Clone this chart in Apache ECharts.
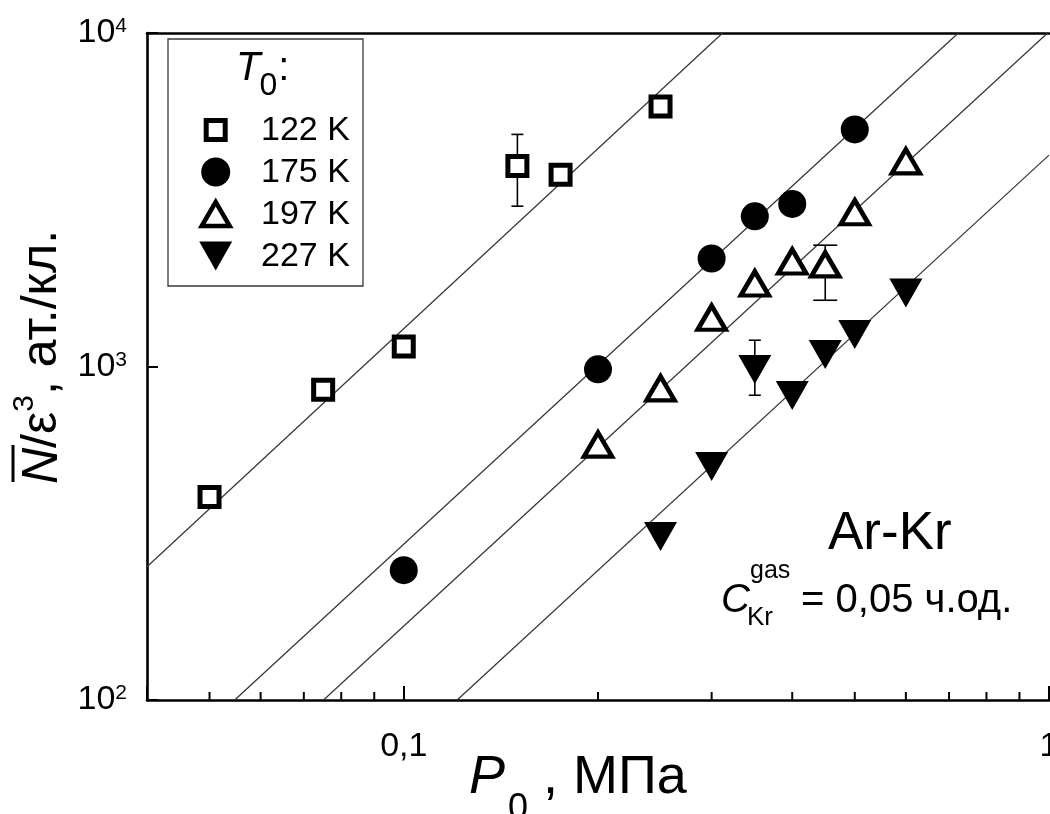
<!DOCTYPE html>
<html><head><meta charset="utf-8">
<script src="https://cdn.jsdelivr.net/npm/echarts@6/dist/echarts.min.js"></script>
<style>html,body{margin:0;padding:0;background:#fff}#c{width:1050px;height:814px}</style>
</head><body><div id="c"></div>
<script>
const FONT = '"Liberation Sans", Arial, sans-serif';

// ---- data ----
const seriesNames = ['122 K', '175 K', '197 K', '227 K'];
const p122 = [0.05, 0.075, 0.1, 0.15, 0.175, 0.25];
const n122 = [406, 852, 1148, 3990, 3760, 6020];
const p175 = [0.1, 0.2, 0.3, 0.35, 0.4, 0.5];
const n175 = [245, 981, 2108, 2820, 3072, 5140];
const p197 = [0.2, 0.25, 0.3, 0.35, 0.4, 0.45, 0.5, 0.6];
const n197 = [583, 860, 1400, 1774, 2065, 2023, 2900, 4120];
const p227 = [0.25, 0.3, 0.35, 0.4, 0.45, 0.5, 0.6];
const n227 = [309, 501, 980, 819, 1086, 1248, 1660];
// error bars: [P0, low, high]
const err122 = [[0.15, 3025, 4965]];
const err197 = [[0.45, 1580, 2311]];
const err227 = [[0.35, 820, 1199]];
// fitted straight lines (end points)
const fit122 = [[0.04, 251], [0.312, 10000]];
const fit175 = [[0.0547, 100], [0.7235, 10000]];
const fit197 = [[0.0751, 100], [0.995, 10000]];
const fit227 = [[0.121, 100], [1.0, 4305]];
// axes
const xRange = [0.04, 1];
const yRange = [100, 10000];
const xTickLabels = {'-1': '0,1', '0': '1'};
const xMinorTicks = [0.05, 0.06, 0.07, 0.08, 0.09, 0.2, 0.3, 0.4, 0.5, 0.6, 0.7, 0.8, 0.9];
const yMinorTicks = [200, 300, 400, 500, 600, 700, 800, 900, 2000, 3000, 4000, 5000, 6000, 7000, 8000, 9000];

const zip = (a, b) => a.map((v, i) => [v, b[i]]);

const chart = echarts.init(document.getElementById('c'), null, {renderer: 'canvas'});

function errRender(capHalf) {
  return function (params, api) {
    const x = api.value(0), lo = api.value(1), hi = api.value(2);
    const a = api.coord([x, lo]), b = api.coord([x, hi]);
    const st = {stroke: '#000', lineWidth: 1.6};
    return {type: 'group', children: [
      {type: 'line', shape: {x1: a[0], y1: a[1], x2: b[0], y2: b[1]}, style: st},
      {type: 'line', shape: {x1: a[0] - capHalf, y1: a[1], x2: a[0] + capHalf, y2: a[1]}, style: st},
      {type: 'line', shape: {x1: b[0] - capHalf, y1: b[1], x2: b[0] + capHalf, y2: b[1]}, style: st}
    ]};
  };
}
function minorX(params, api) {
  const p = api.coord([api.value(0), yRange[0]]);
  return {type: 'line', shape: {x1: p[0], y1: p[1], x2: p[0], y2: p[1] - 8}, style: {stroke: '#000', lineWidth: 2}};
}
function minorY(params, api) {
  const p = api.coord([xRange[0], api.value(0)]);
  return {type: 'line', shape: {x1: p[0], y1: p[1], x2: p[0] + 8, y2: p[1]}, style: {stroke: '#000', lineWidth: 2}};
}

// ---- text helpers ----
const mctx = document.createElement('canvas').getContext('2d');
function fontStr(size, italic) { return (italic ? 'italic ' : '') + size + 'px ' + FONT; }
function measure(t, size, italic) { mctx.font = fontStr(size, italic); return mctx.measureText(t).width; }
function run(segs, x0, base) {
  const out = []; let x = x0;
  segs.forEach(s => {
    x += s.dx || 0;
    out.push({type: 'text', x: x, y: base + (s.dy || 0) - 0.3465 * s.size, z: 100, silent: true,
      style: {text: s.t, font: fontStr(s.size, s.italic), fill: '#000',
        align: 'left', verticalAlign: 'middle', textAlign: 'left', textVerticalAlign: 'middle'}});
    x += measure(s.t, s.size, s.italic);
  });
  return out;
}

const graphics = [];
// y axis title (rotated)
const yTitleSegs = [
  {t: 'N', size: 50, italic: true},
  {t: '/ε', size: 50},
  {t: '3', size: 30, dy: -25},
  {t: ', ат./кл.', size: 50}
];
graphics.push({type: 'group', x: 60, y: 484, rotation: Math.PI / 2, z: 100,
  children: run(yTitleSegs, 0, 0).concat([
    {type: 'line', z: 100, shape: {x1: 2, y1: -47, x2: 39, y2: -47}, style: {stroke: '#000', lineWidth: 3}}
  ])});
// x axis title
graphics.push(...run([
  {t: 'P', size: 54, italic: true},
  {t: '0', size: 36, dy: 25, dx: 3},
  {t: ' , МПа', size: 54}
], 469, 797));
// annotation
graphics.push(...run([{t: 'Ar-Kr', size: 53}], 828, 553));
graphics.push(...run([{t: 'C', size: 40, italic: true}], 721, 615));
graphics.push(...run([{t: 'gas', size: 25}], 750, 580));
graphics.push(...run([{t: 'Kr', size: 26}], 747, 627));
graphics.push(...run([{t: ' = 0,05 ч.од.', size: 40}], 790, 615));

// legend box
graphics.push({type: 'rect', z: 90, shape: {x: 168, y: 39, width: 195, height: 247},
  style: {fill: '#fff', stroke: '#3a3a3a', lineWidth: 1.3}});
graphics.push(...run([{t: 'T', size: 40, italic: true}, {t: '0', size: 32, dy: 14, dx: -1}, {t: ':', size: 40, dx: 1}], 236, 83));
const legX = 215.7, legRows = [130, 172, 214, 256];
graphics.push({type: 'rect', z: 100, shape: {x: legX - 9.5, y: legRows[0] - 9.5, width: 19, height: 19},
  style: {fill: '#fff', stroke: '#000', lineWidth: 5, lineJoin: 'miter'}});
graphics.push({type: 'circle', z: 100, shape: {cx: legX, cy: legRows[1], r: 14.5}, style: {fill: '#000'}});
graphics.push({type: 'polygon', z: 100, shape: {points: [[legX - 14, legRows[2] + 12], [legX + 14, legRows[2] + 12], [legX, legRows[2] - 12]]},
  style: {fill: '#fff', stroke: '#000', lineWidth: 4.5, lineJoin: 'miter'}});
graphics.push({type: 'polygon', z: 100, shape: {points: [[legX - 16.5, legRows[3] - 14.5], [legX + 16.5, legRows[3] - 14.5], [legX, legRows[3] + 14.5]]},
  style: {fill: '#000'}});
seriesNames.forEach((n, i) => graphics.push(...run([{t: n, size: 34}], 261, legRows[i] + 12)));

const fitStyle = {color: '#333', width: 1.2};
function fitSeries(d) {
  return {type: 'line', data: d, symbol: 'none', lineStyle: fitStyle, silent: true, z: 1, clip: true};
}

const option = {
  animation: false,
  backgroundColor: '#fff',
  textStyle: {fontFamily: FONT},
  grid: {left: 147, right: 1, top: 33, bottom: 114, containLabel: false, outerBoundsMode: 'none'},
  xAxis: [{
    type: 'log', logBase: 10, min: xRange[0], max: xRange[1],
    axisLine: {show: true, lineStyle: {color: '#000', width: 2.6}},
    axisTick: {show: true, inside: true, length: 14, lineStyle: {color: '#000', width: 2}},
    splitLine: {show: false}, minorTick: {show: false}, minorSplitLine: {show: false},
    axisLabel: {
      margin: 30, color: '#000', fontSize: 34, fontFamily: FONT,
      showMinLabel: true, showMaxLabel: true, hideOverlap: false,
      formatter: v => { const e = Math.round(Math.log10(v)); if (Math.abs(Math.log10(v) - e) > 1e-6) return ''; return xTickLabels[String(e)] || ''; }
    }
  }, {
    type: 'log', logBase: 10, min: xRange[0], max: xRange[1], position: 'top',
    axisLine: {show: true, lineStyle: {color: '#000', width: 2.6}},
    axisTick: {show: false}, axisLabel: {show: false}, splitLine: {show: false}
  }],
  yAxis: {
    type: 'log', logBase: 10, min: yRange[0], max: yRange[1],
    axisLine: {show: true, lineStyle: {color: '#000', width: 2.6}},
    axisTick: {show: true, inside: true, length: 11, lineStyle: {color: '#000', width: 2}},
    splitLine: {show: false}, minorTick: {show: false},
    axisLabel: {
      margin: 20, color: '#000', fontSize: 34, fontFamily: FONT,
      formatter: v => { const e = Math.round(Math.log10(v)); if (Math.abs(Math.log10(v) - e) > 1e-6) return ''; return '{b|10}{s|' + e + '}'; },
      rich: {
        b: {fontSize: 34, fontFamily: FONT, color: '#000'},
        s: {fontSize: 21, fontFamily: FONT, color: '#000', verticalAlign: 'top'}
      }
    }
  },
  series: [
    fitSeries(fit122), fitSeries(fit175), fitSeries(fit197), fitSeries(fit227),
    {type: 'custom', renderItem: errRender(6), data: err122, encode: {x: 0, y: [1, 2]}, z: 2, silent: true},
    {type: 'custom', renderItem: errRender(12), data: err197, encode: {x: 0, y: [1, 2]}, z: 2, silent: true},
    {type: 'custom', renderItem: errRender(6), data: err227, encode: {x: 0, y: [1, 2]}, z: 2, silent: true},
    {name: seriesNames[0], type: 'scatter', data: zip(p122, n122), symbol: 'rect', symbolSize: 19, z: 3,
      itemStyle: {color: '#fff', borderColor: '#000', borderWidth: 5, borderJoin: 'miter', opacity: 1}},
    {name: seriesNames[1], type: 'scatter', data: zip(p175, n175), symbol: 'circle', symbolSize: 28, z: 3,
      itemStyle: {color: '#000', opacity: 1}},
    {name: seriesNames[2], type: 'scatter', data: zip(p197, n197), symbol: 'triangle', symbolSize: [28, 24], z: 3,
      itemStyle: {color: '#fff', borderColor: '#000', borderWidth: 4.5, borderJoin: 'miter', opacity: 1}},
    {name: seriesNames[3], type: 'scatter', data: zip(p227, n227), symbol: 'triangle', symbolRotate: 180, symbolSize: [33, 29], z: 3,
      itemStyle: {color: '#000', opacity: 1}},
    {type: 'custom', renderItem: minorX, data: xMinorTicks.map(v => [v, yRange[0]]), encode: {x: 0, y: 1}, z: 4, silent: true, clip: false},
    {type: 'custom', renderItem: minorY, data: yMinorTicks.map(v => [xRange[0], v]), encode: {x: 0, y: 1}, z: 4, silent: true, clip: false}
  ],
  graphic: {elements: graphics}
};
chart.setOption(option);
</script></body></html>
